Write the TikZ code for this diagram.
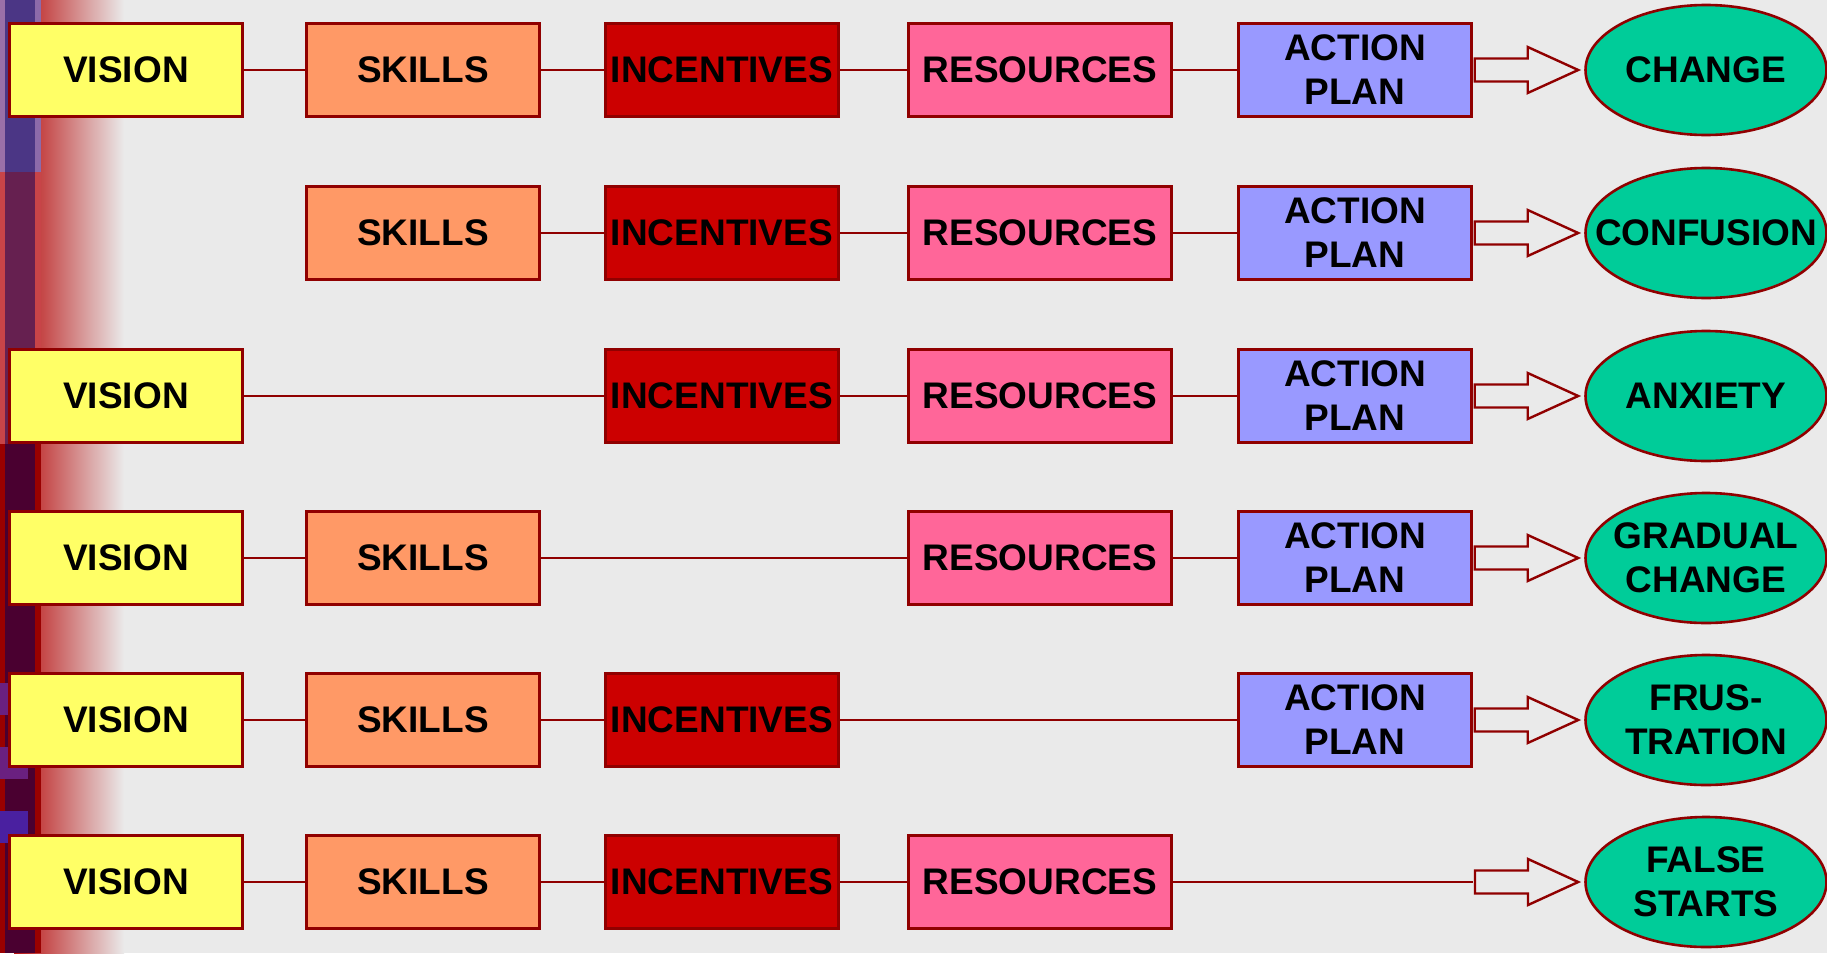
\documentclass[tikz,border=0pt]{standalone}
\usepackage{fontspec}
\setmainfont{Liberation Sans}
\usepackage{tikz}
\usetikzlibrary{shapes,arrows}
\usetikzlibrary{shapes.geometric}
\usetikzlibrary{positioning,calc}

\definecolor{bg}{HTML}{EAEAEA}
\definecolor{edge}{HTML}{900000}
\definecolor{visioncol}{HTML}{FFFF66}
\definecolor{skillcol}{HTML}{FF9966}
\definecolor{inccol}{HTML}{CC0000}
\definecolor{rescol}{HTML}{FF6699}
\definecolor{plancol}{HTML}{9999FF}
\definecolor{outcol}{HTML}{00CC99}
\definecolor{gradred}{HTML}{B81010}

\newcommand{\bigbold}{\fontsize{37}{44}\selectfont\bfseries}

\tikzstyle{block} = [rectangle, draw=edge, line width=2.4pt, minimum width=233pt,
minimum height=93pt, inner sep=0pt, align=center, font=\bigbold]
\tikzstyle{vision} = [block, fill=visioncol]
\tikzstyle{skills} = [block, fill=skillcol]
\tikzstyle{incent} = [block, fill=inccol]
\tikzstyle{resource} = [block, fill=rescol, minimum width=263pt]
\tikzstyle{plan} = [block, fill=plancol]
\tikzstyle{result} = [ellipse, draw=edge, line width=2.6pt, fill=outcol,
minimum width=241pt, minimum height=130pt, inner xsep=-30pt, inner ysep=-12pt,
align=center, font=\bigbold]
\tikzstyle{line} = [draw=edge, line width=2.4pt]
\tikzstyle{hollow} = [draw=edge, line width=2.4pt, fill=bg, line join=miter]

% open double-line arrow from a point to a result node
\newcommand{\hollowarrow}[2]{%
  \path [hollow] ($(#1)+(2pt,11.5pt)$) -- ++(53pt,0pt) -- ++(0pt,11.5pt)
    -- ($(#2.west)+(-6pt,0pt)$) -- ($(#1)+(55pt,-23pt)$) -- ++(0pt,11.5pt)
    -- ++(-53pt,0pt) -- cycle;}

\begin{document}
\begin{tikzpicture}[x=1pt, y=-1pt, node distance=297pt]
	% Background and left border
	\fill [bg] (0,0) rectangle (1827,953);
	\useasboundingbox (0,0) rectangle (1827,953);
	\shade [left color=gradred, right color=bg] (14,0) rectangle (124,953);
	\fill [color={rgb,255:red,154;green,112;blue,168}] (0,0) rectangle (5,172);
	\fill [color={rgb,255:red,75;green,54;blue,133}] (5,0) rectangle (35,172);
	\fill [color={rgb,255:red,140;green,106;blue,170}] (35,0) rectangle (41,172);
	\fill [color={rgb,255:red,200;green,68;blue,72}] (0,172) rectangle (5,444);
	\fill [color={rgb,255:red,102;green,32;blue,80}] (5,172) rectangle (35,444);
	\fill [color={rgb,255:red,200;green,68;blue,72}] (35,172) rectangle (41,444);
	\fill [color={rgb,255:red,153;green,0;blue,0}] (0,444) rectangle (5,953);
	\fill [color={rgb,255:red,74;green,0;blue,48}] (5,444) rectangle (35,953);
	\fill [color={rgb,255:red,153;green,0;blue,0}] (35,444) rectangle (41,953);
	\fill [color={rgb,255:red,106;green,32;blue,128}] (0,683) rectangle (8,715);
	\fill [color={rgb,255:red,106;green,32;blue,128}] (0,747) rectangle (28,779);
	\fill [color={rgb,255:red,74;green,32;blue,160}] (0,811) rectangle (28,843);

	% Place nodes
	% row 1
	\node [vision] (v1) at (126,70) {VISION};
	\node [skills, right of=v1] (s1) {SKILLS};
	\node [incent, right of=s1, node distance=299pt] (n1) {INCENTIVES};
	\node [resource, right of=n1, node distance=318pt] (r1) {RESOURCES};
	\node [plan, right of=r1, node distance=315pt] (p1) {ACTION\\PLAN};
	\node [result, right of=p1, node distance=351pt] (o1) {CHANGE};
	% row 2
	\node [skills, below of=s1, node distance=163pt] (s2) {SKILLS};
	\node [incent, right of=s2, node distance=299pt] (n2) {INCENTIVES};
	\node [resource, right of=n2, node distance=318pt] (r2) {RESOURCES};
	\node [plan, right of=r2, node distance=315pt] (p2) {ACTION\\PLAN};
	\node [result, right of=p2, node distance=351pt] (o2) {CONFUSION};
	% row 3
	\node [vision, below of=v1, node distance=326pt] (v3) {VISION};
	\node [incent, right of=v3, node distance=596pt] (n3) {INCENTIVES};
	\node [resource, right of=n3, node distance=318pt] (r3) {RESOURCES};
	\node [plan, right of=r3, node distance=315pt] (p3) {ACTION\\PLAN};
	\node [result, right of=p3, node distance=351pt] (o3) {ANXIETY};
	% row 4
	\node [vision, below of=v3, node distance=162pt] (v4) {VISION};
	\node [skills, right of=v4] (s4) {SKILLS};
	\node [resource, right of=s4, node distance=617pt] (r4) {RESOURCES};
	\node [plan, right of=r4, node distance=315pt] (p4) {ACTION\\PLAN};
	\node [result, right of=p4, node distance=351pt] (o4) {GRADUAL\\CHANGE};
	% row 5
	\node [vision, below of=v4, node distance=162pt] (v5) {VISION};
	\node [skills, right of=v5] (s5) {SKILLS};
	\node [incent, right of=s5, node distance=299pt] (n5) {INCENTIVES};
	\node [plan, right of=n5, node distance=633pt] (p5) {ACTION\\PLAN};
	\node [result, right of=p5, node distance=351pt] (o5) {FRUS-\\TRATION};
	% row 6
	\node [vision, below of=v5, node distance=162pt] (v6) {VISION};
	\node [skills, right of=v6] (s6) {SKILLS};
	\node [incent, right of=s6, node distance=299pt] (n6) {INCENTIVES};
	\node [resource, right of=n6, node distance=318pt] (r6) {RESOURCES};
	\coordinate [right of=r6, node distance=433pt] (c6);
	\node [result, right of=r6, node distance=666pt] (o6) {FALSE\\STARTS};

	\path [line] (v1) -- (s1);
	\path [line] (s1) -- (n1);
	\path [line] (n1) -- (r1);
	\path [line] (r1) -- (p1);
	\path [line] (s2) -- (n2);
	\path [line] (n2) -- (r2);
	\path [line] (r2) -- (p2);
	\path [line] (v3) -- (n3);
	\path [line] (n3) -- (r3);
	\path [line] (r3) -- (p3);
	\path [line] (v4) -- (s4);
	\path [line] (s4) -- (r4);
	\path [line] (r4) -- (p4);
	\path [line] (v5) -- (s5);
	\path [line] (s5) -- (n5);
	\path [line] (n5) -- (p5);
	\path [line] (v6) -- (s6);
	\path [line] (s6) -- (n6);
	\path [line] (n6) -- (r6);
	\path [line] (r6) -- (c6);

	\hollowarrow{p1.east}{o1}
	\hollowarrow{p2.east}{o2}
	\hollowarrow{p3.east}{o3}
	\hollowarrow{p4.east}{o4}
	\hollowarrow{p5.east}{o5}
	\hollowarrow{c6}{o6}
\end{tikzpicture}
\end{document}
